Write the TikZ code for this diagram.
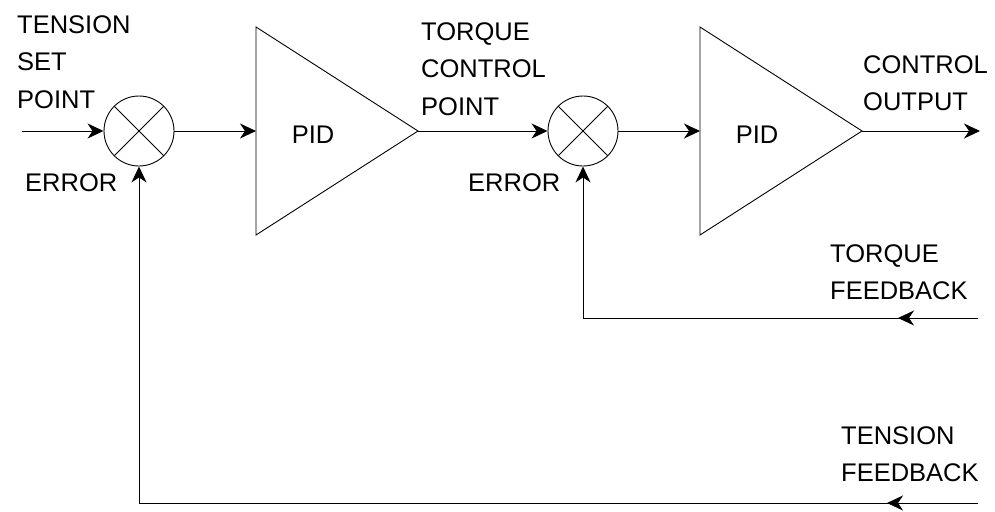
\documentclass[tikz,border=0pt]{standalone}
\usepackage{fontspec}
\setmainfont{Liberation Sans}
\usetikzlibrary{positioning, arrows.meta, shapes.geometric, calc, decorations.markings}

\begin{document}
\begin{tikzpicture}[
  x=1pt, y=-1pt,
  font=\fontsize{25.5}{37.5}\selectfont,
  sum/.style={draw, circle, minimum size=70pt, inner sep=0pt, line width=0.9pt,
    path picture={\draw[line width=0.9pt]
      (path picture bounding box.north west) -- (path picture bounding box.south east)
      (path picture bounding box.north east) -- (path picture bounding box.south west);}},
  amp/.style={draw, isosceles triangle, isosceles triangle stretches,
    minimum width=208pt, minimum height=162pt, inner sep=0pt, outer sep=0pt,
    line width=0.9pt, anchor=west},
  lbl/.style={align=left, anchor=north west, inner sep=0pt},
  arrow/.style={-{Stealth[length=16pt, width=15pt, inset=5pt]}, line width=1pt},
  fb/.style={postaction={decorate}, decoration={markings,
    mark=at position #1 with {\arrow{Stealth[length=16pt, width=15pt, inset=5pt]}}}},
]
  \useasboundingbox (0,0) rectangle (995,511);

  % summing points and controllers
  \node[sum] (sum1) at (139,131) {};
  \node[amp] (pid1) at (256,131) {};
  \node (pidtxt1) at ($(pid1.west)+(57,4)$) {PID};
  \node[sum] (sum2) at (583,131) {};
  \node[amp] (pid2) at (700,131) {};
  \node (pidtxt2) at ($(pid2.west)+(57,4)$) {PID};

  % free ends
  \coordinate (setin)  at (22,131);
  \coordinate (ctlout) at (980,131);
  \coordinate (tqfb)   at (978,318);
  \coordinate (tsfb)   at (978,503);

  % labels
  \node[lbl] (setpt)  at (17,15)   {TENSION\\SET\\POINT};
  \node[lbl] (err1)   at (25,173)  {ERROR};
  \node[lbl] (tqpt)   at (421,22)  {TORQUE\\CONTROL\\POINT};
  \node[lbl] (err2)   at (468,173) {ERROR};
  \node[lbl] (outlbl) at (863,55)  {CONTROL\\OUTPUT};
  \node[lbl] (tqlbl)  at (830,244) {TORQUE\\FEEDBACK};
  \node[lbl] (tslbl)  at (841,426) {TENSION\\FEEDBACK};

  % signal path
  \draw[arrow] (setin) -- (sum1.west);
  \draw[arrow] (sum1.east) -- (pid1.west);
  \draw[arrow] (pid1.apex) -- (sum2.west);
  \draw[arrow] (sum2.east) -- (pid2.west);
  \draw[arrow] (pid2.apex) -- (ctlout);

  % feedback loops
  \draw[arrow, fb=80pt] (tqfb) -| (sum2.south);
  \draw[arrow, fb=91pt] (tsfb) -| (sum1.south);
\end{tikzpicture}
\end{document}
